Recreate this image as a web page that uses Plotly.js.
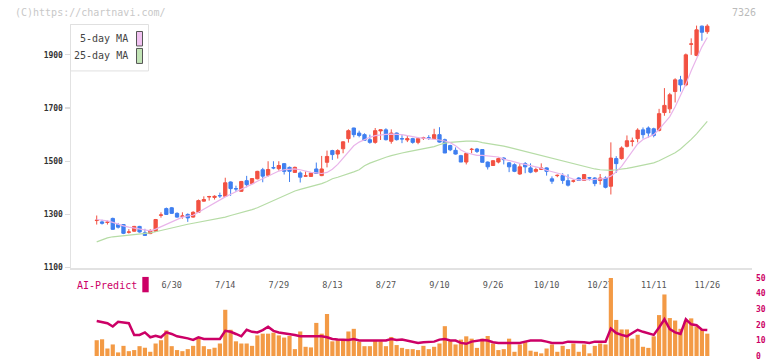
<!DOCTYPE html>
<html><head><meta charset="utf-8">
<script src="https://cdn.plot.ly/plotly-3.0.1.min.js"></script>
<style>html,body{margin:0;padding:0;background:#fff}#chart{width:772px;height:361px}</style>
</head><body><div id="chart"></div>
<script>
// ---- data ----
const dateLabelIdx = [14,24,34,44,54,64,74,84,94,104,114];
const dateLabels = ['6/30','7/14','7/29','8/13','8/27','9/10','9/26','10/10','10/27','11/11','11/26'];
const open = [1277,1272,1270,1285,1262,1262,1233,1237,1255,1231,1228,1237,1297,1322,1325,1304,1293,1300,1290,1308,
1350,1366,1364,1371,1368,1422,1397,1387,1427,1416,1434,1468,1447,1476,1472,1491,1477,1458,1456,1444,
1443,1471,1446,1496,1540,1527,1547,1585,1625,1606,1600,1581,1571,1614,1618,1575,1606,1585,1580,1585,
1571,1587,1588,1585,1600,1581,1559,1541,1521,1497,1544,1546,1544,1497,1484,1497,1512,1494,1487,1452,
1491,1475,1462,1469,1475,1434,1446,1446,1427,1425,1437,1428,1438,1437,1428,1437,1406,1510,1510,1556,
1575,1585,1618,1625,1622,1616,1683,1697,1762,1806,1787,1940,1898,2008,1987];
const high = [1296,1280,1277,1288,1268,1264,1245,1257,1257,1246,1244,1283,1308,1326,1328,1308,1308,1304,1312,1356,
1368,1370,1372,1382,1438,1424,1408,1426,1445,1437,1464,1475,1500,1500,1500,1493,1480,1480,1462,1462,
1458,1495,1520,1540,1543,1545,1575,1620,1626,1615,1605,1600,1625,1618,1624,1620,1608,1598,1595,1588,
1590,1592,1598,1622,1628,1585,1562,1552,1524,1530,1550,1550,1546,1499,1504,1514,1515,1497,1492,1489,
1497,1492,1476,1492,1477,1443,1450,1455,1451,1432,1440,1452,1441,1440,1452,1443,1571,1519,1556,1597,
1589,1624,1627,1631,1626,1697,1775,1757,1812,1821,1905,1962,2010,2010,2015];
const low = [1262,1262,1262,1242,1247,1226,1228,1235,1232,1219,1226,1236,1288,1298,1302,1288,1284,1272,1288,1306,
1348,1352,1356,1362,1368,1370,1385,1385,1402,1414,1432,1421,1442,1470,1465,1450,1422,1456,1420,1442,
1441,1452,1444,1477,1505,1510,1530,1570,1590,1590,1578,1566,1566,1580,1578,1566,1578,1568,1572,1566,
1564,1580,1580,1584,1570,1531,1538,1525,1497,1488,1530,1531,1496,1469,1483,1492,1488,1459,1459,1449,
1455,1455,1457,1467,1446,1415,1440,1415,1405,1420,1427,1427,1428,1406,1412,1398,1375,1456,1506,1552,
1556,1571,1585,1589,1590,1612,1671,1681,1721,1762,1782,1900,1895,1953,1979];
const close = [1278,1267,1271,1244,1252,1229,1234,1255,1234,1221,1240,1281,1298,1300,1304,1290,1294,1287,1308,1352,
1356,1367,1368,1370,1419,1397,1396,1424,1412,1435,1462,1444,1469,1475,1484,1462,1462,1477,1440,1445,
1456,1454,1471,1518,1525,1540,1573,1615,1600,1597,1579,1571,1615,1618,1581,1606,1581,1584,1585,1571,
1585,1588,1587,1600,1572,1531,1543,1527,1497,1529,1545,1537,1496,1479,1502,1510,1506,1479,1462,1479,
1479,1459,1469,1475,1462,1425,1447,1428,1410,1426,1428,1450,1437,1416,1437,1402,1512,1491,1550,1577,
1576,1617,1600,1606,1597,1679,1710,1750,1806,1787,1900,1941,1994,1985,2008];
const ma5 = [1281,1279,1276,1270,1263,1257,1252,1249,1246,1242,1238,1245,1254,1265,1275,1283,1290,1294,1297,1308,
1320,1330,1342,1355,1366,1376,1385,1394,1404,1414,1425,1435,1445,1456,1463,1468,1470,1471,1468,1462,
1458,1456,1454,1458,1470,1488,1510,1535,1558,1572,1582,1590,1596,1599,1601,1602,1602,1600,1596,1592,
1589,1587,1585,1583,1580,1576,1570,1558,1542,1532,1526,1522,1522,1520,1518,1516,1508,1502,1497,1492,
1488,1484,1479,1474,1466,1460,1455,1450,1440,1433,1430,1430,1431,1432,1434,1436,1444,1460,1481,1510,
1540,1565,1582,1592,1600,1620,1645,1668,1705,1745,1790,1840,1887,1930,1965];
const ma25 = [1197,1205,1212,1216,1218,1219,1221,1223,1225,1228,1231,1235,1240,1244,1249,1254,1259,1263,1267,1271,
1274,1277,1281,1285,1290,1296,1301,1306,1312,1318,1325,1334,1343,1353,1364,1373,1381,1388,1394,1399,
1404,1410,1416,1424,1434,1440,1446,1453,1460,1468,1483,1493,1501,1509,1515,1521,1527,1531,1535,1539,
1543,1547,1551,1555,1562,1568,1571,1573,1575,1576,1576,1575,1570,1567,1564,1561,1557,1552,1547,1541,
1535,1530,1525,1521,1517,1512,1507,1502,1496,1491,1486,1480,1475,1471,1468,1466,1466,1468,1470,1473,
1477,1481,1485,1489,1494,1502,1511,1520,1532,1546,1563,1582,1603,1626,1650];
const volume = [10.1,10.7,4.8,7.4,2.3,6.5,3.1,3.8,6.3,5.3,2.7,8.0,10.1,16.4,6.3,3.8,3.1,4.4,6.5,12.2,
6.3,4.4,5.3,8.0,29.6,16.8,9.4,8.0,8.0,6.5,13.2,14.3,14.3,14.9,13.2,11.8,12.8,4.4,15.7,5.9,
5.5,21.2,14.3,26.9,9.4,10.5,10.5,15.7,17.4,9.1,6.3,6.3,10.1,9.4,6.3,12.2,7.0,5.2,4.4,4.4,
3.8,6.5,4.4,5.9,8.0,19.1,9.5,7.4,10.5,12.6,11.1,5.2,11.1,12.8,8.0,3.8,4.4,11.1,2.7,7.4,
9.1,3.4,2.7,1.7,4.8,7.4,2.7,6.5,4.4,8.0,2.7,7.4,1.7,6.5,8.0,7.4,50,23.1,17.0,17.0,
11.1,13.6,5.9,5.2,12.6,26.2,39.4,24.3,22.7,17.4,22.7,24.1,18.9,16.8,14.3];
const aiPredict = [22.4,21.9,21.0,18.9,21.9,21.5,21.0,13.5,13.5,15.1,12.0,13.0,12.0,15.1,14.1,12.6,12.0,11.3,10.3,12.0,
10.9,10.9,10.9,10.9,16.1,15.5,14.1,12.6,16.8,15.5,15.1,16.6,18.7,16.1,15.1,14.7,14.1,13.5,12.6,12.6,
12.6,12.6,12.6,12.0,10.9,10.5,10.3,10.3,10.9,9.9,9.9,9.9,10.3,9.9,9.9,10.9,10.3,10.5,9.9,9.2,
8.4,8.8,8.8,9.2,10.5,10.9,9.9,9.9,8.4,7.8,9.2,9.9,10.3,9.9,8.8,8.4,8.4,8.4,8.4,8.4,
9.2,9.9,9.9,9.9,9.2,8.4,8.4,8.4,9.2,9.2,9.2,8.8,8.4,9.2,9.2,9.2,17.6,14.7,13.5,12.6,
14.7,16.8,15.5,14.7,13.5,18.3,23.5,17.2,15.1,14.1,23.5,20.3,19.7,16.8,16.6];
const priceTicks = [1100,1300,1500,1700,1900];
const aiTicks = [0,10,20,30,40,50];
const idx = close.map((_, i) => i);

// ---- layout helpers (pixel -> paper) ----
const L = 71, R = 752, T = 24, B = 356.5;
const px = v => (v - L) / (R - L);
const py = v => (B - v) / (B - T);
const xRange = [-4.8, 122.35];
const MONO = 'DejaVu Sans Mono, Liberation Mono, monospace';

const traces = [
  {type:'scatter', mode:'lines', x:idx, y:ma25, xaxis:'x', yaxis:'y', line:{color:'#b6dca6', width:1.2}, hoverinfo:'skip'},
  {type:'scatter', mode:'lines', x:idx, y:ma5, xaxis:'x', yaxis:'y', line:{color:'#e9b4ea', width:1.2}, hoverinfo:'skip'},
  {type:'candlestick', x:idx, open:open, high:high, low:low, close:close, xaxis:'x', yaxis:'y',
   increasing:{line:{color:'#f25142', width:1}, fillcolor:'#f25142'},
   decreasing:{line:{color:'#3f7ff0', width:1}, fillcolor:'#3f7ff0'},
   whiskerwidth:0, hoverinfo:'skip'},
  {type:'bar', x:idx, y:volume, xaxis:'x', yaxis:'y2', marker:{color:'#f39a45', line:{width:0}}, hoverinfo:'skip'},
  {type:'scatter', mode:'lines', x:idx, y:aiPredict, xaxis:'x', yaxis:'y2', line:{color:'#cc0066', width:2.5}, hoverinfo:'skip'}
];

const axCommon = {showgrid:false, zeroline:false, fixedrange:true};
const layout = {
  width:772, height:361,
  margin:{l:L, r:772-R, t:T, b:361-B},
  paper_bgcolor:'#ffffff', plot_bgcolor:'rgba(0,0,0,0)',
  showlegend:false, bargap:0.22, boxgap:0.12,
  font:{family:MONO, color:'#555'},
  xaxis:Object.assign({}, axCommon, {domain:[0,1], anchor:'y', range:xRange,
    tickmode:'array', tickvals:dateLabelIdx, ticktext:dateLabels, ticks:'',
    showline:true, linecolor:'#e2e2e2', linewidth:2, layer:'below traces',
    ticklabelstandoff:8, tickfont:{family:MONO, size:8.5, color:'#555'},
    rangeslider:{visible:false}}),
  xaxis3:Object.assign({}, axCommon, {overlaying:'x', anchor:'y', range:xRange,
    tickmode:'linear', tick0:xRange[0], dtick:(xRange[1]-xRange[0])/11,
    ticks:'outside', ticklen:5, tickwidth:1.5, tickcolor:'#dcdcdc', showticklabels:false, showline:false}),
  xaxis4:Object.assign({}, axCommon, {overlaying:'x', anchor:'y', range:xRange,
    tickmode:'linear', tick0:xRange[0], dtick:(xRange[1]-xRange[0])/11,
    ticks:'inside', ticklen:3, tickwidth:1.5, tickcolor:'#dcdcdc', showticklabels:false, showline:false}),
  yaxis:Object.assign({}, axCommon, {domain:[py(268), 1], anchor:'x', range:[1100, 2016],
    tickmode:'array', tickvals:priceTicks, ticks:'outside', ticklen:5, tickwidth:1.2, tickcolor:'#dcdcdc',
    showline:true, linecolor:'#e2e2e2', linewidth:1.5,
    tickfont:{family:MONO, size:8, color:'#333', weight:'bold'}}),
  yaxis3:Object.assign({}, axCommon, {overlaying:'y', anchor:'x', range:[1100, 2016],
    tickmode:'array', tickvals:priceTicks, ticks:'inside', ticklen:2, tickwidth:1.2, tickcolor:'#dcdcdc',
    showticklabels:false, showline:false}),
  yaxis2:Object.assign({}, axCommon, {domain:[0, py(278.3)], anchor:'x', side:'right', range:[0, 50],
    tickmode:'array', tickvals:aiTicks, ticks:'', showline:false, ticklabelstandoff:3,
    ticklabeloverflow:'allow',
    tickfont:{family:MONO, size:8, color:'#cc0066', weight:'bold'}}),
  shapes:[
    {type:'rect', xref:'paper', yref:'paper', x0:px(70.5), x1:px(148.5), y0:py(71), y1:py(24.5),
     fillcolor:'#ffffff', line:{color:'#e0e0e0', width:1}, layer:'above'},
    {type:'rect', xref:'paper', yref:'paper', x0:px(136.5), x1:px(142.5), y0:py(46), y1:py(31.5),
     fillcolor:'#f1c2f1', line:{color:'#555', width:1}, layer:'above'},
    {type:'rect', xref:'paper', yref:'paper', x0:px(136.5), x1:px(142.5), y0:py(63.5), y1:py(48.5),
     fillcolor:'#c2e4b6', line:{color:'#555', width:1}, layer:'above'},
    {type:'rect', xref:'paper', yref:'paper', x0:px(142.3), x1:px(148.7), y0:py(292.7), y1:py(277.3),
     fillcolor:'#cc0066', line:{width:0}, layer:'above'}
  ],
  annotations:[
    {xref:'paper', yref:'paper', x:px(13), y:py(12), xanchor:'left', yanchor:'middle', showarrow:false,
     text:'(C)https://chartnavi.com/', font:{family:MONO, size:10, color:'#c8c8c8'}},
    {xref:'paper', yref:'paper', x:px(758), y:py(12), xanchor:'right', yanchor:'middle', showarrow:false,
     text:'7326', font:{family:MONO, size:10, color:'#bbbbbb'}},
    {xref:'paper', yref:'paper', x:px(130), y:py(39), xanchor:'right', yanchor:'middle', showarrow:false,
     text:'5-day MA', font:{family:MONO, size:10, color:'#444'}},
    {xref:'paper', yref:'paper', x:px(130), y:py(56), xanchor:'right', yanchor:'middle', showarrow:false,
     text:'25-day MA', font:{family:MONO, size:10, color:'#444'}},
    {xref:'paper', yref:'paper', x:px(75), y:py(286), xanchor:'left', yanchor:'middle', showarrow:false,
     text:'AI-Predict', font:{family:MONO, size:10, color:'#cc0066'}}
  ]
};

Plotly.newPlot('chart', traces, layout, {staticPlot:true, displayModeBar:false});
</script></body></html>
